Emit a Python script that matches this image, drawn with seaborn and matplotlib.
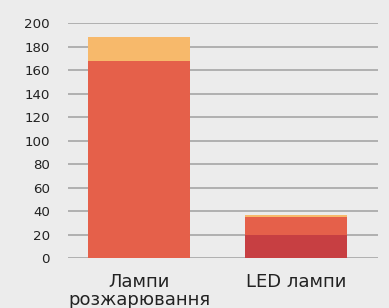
import numpy as np
import pandas as pd
import matplotlib
matplotlib.use("Agg")
import matplotlib.pyplot as plt
import seaborn as sns

# ─── Data ─────────────────────────────────────────────────────────────────────
categories = ["Лампи\nрозжарювання", "LED лампи"]
base_vals = [0, 20]      # dark red segment
mid_vals = [168, 15]     # red segment
top_vals = [20, 2]       # orange segment
y_ticks = [0, 20, 40, 60, 80, 100, 120, 140, 160, 180, 200]

BG = "#ececec"
C_BASE = "#c73f42"
C_MID = "#e5604a"
C_TOP = "#f7b96b"

sns.set_style("white")
plt.rcParams["font.family"] = ["DejaVu Sans"]

df = pd.DataFrame({"cat": categories, "base": base_vals,
                   "mid": mid_vals, "top": top_vals})
df["c1"] = df["base"]
df["c2"] = df["c1"] + df["mid"]
df["c3"] = df["c2"] + df["top"]

fig = plt.figure(figsize=(3.89, 3.08), dpi=100, facecolor=BG)
ax = fig.add_axes([0.175, 0.1623, 0.797, 0.763])
ax.set_facecolor(BG)

# stacked look: draw cumulative totals, tallest first
for ycol, col in [("c3", C_TOP), ("c2", C_MID), ("c1", C_BASE)]:
    sns.barplot(data=df, x="cat", y=ycol, color=col, width=0.65,
                saturation=1, linewidth=0, ax=ax, zorder=3)

ax.set_ylim(0, 200)
ax.set_xlim(-0.452, 1.522)
ax.set_yticks(y_ticks)
ax.yaxis.grid(True, color="#a0a0a0", linewidth=1.1, zorder=0)
ax.set_axisbelow(True)
for s in ax.spines.values():
    s.set_visible(False)
ax.tick_params(axis="y", length=0, pad=13, labelsize=9.6, labelcolor="#222222")
ax.tick_params(axis="x", length=0, pad=11, labelsize=13, labelcolor="#222222")
for lbl in ax.get_xticklabels():
    lbl.set_linespacing(0.95)
ax.set_xlabel("")
ax.set_ylabel("")

fig.savefig("out.png", dpi=100, facecolor=BG)
